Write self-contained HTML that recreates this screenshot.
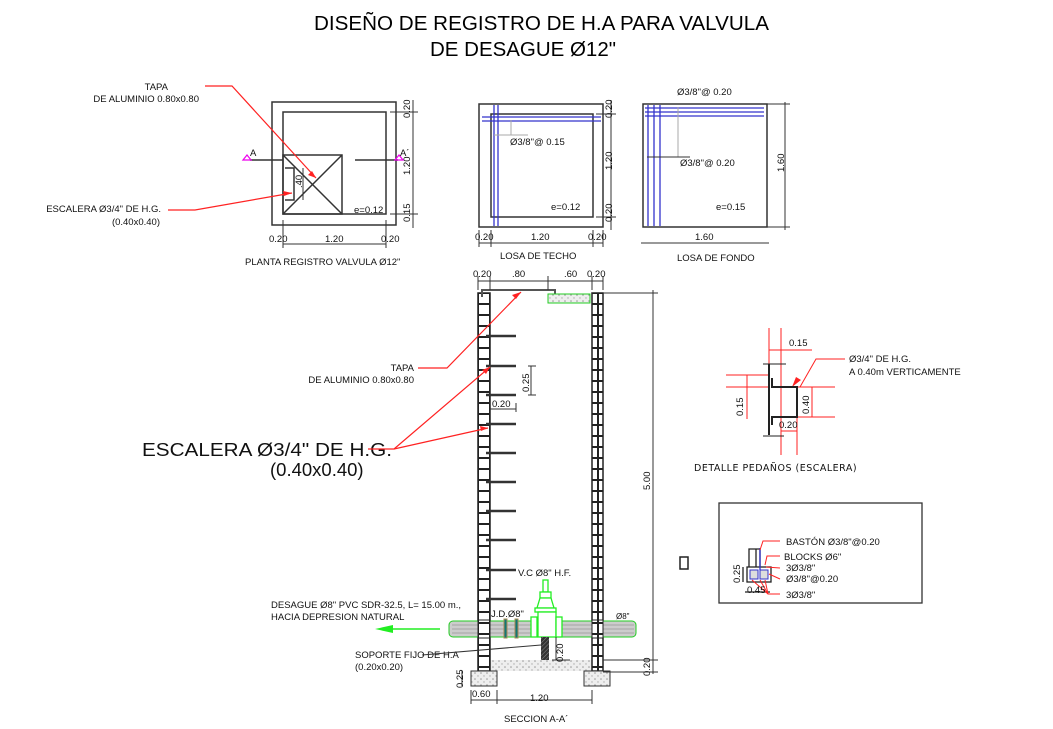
<!DOCTYPE html>
<html><head><meta charset="utf-8"><style>
html,body{margin:0;padding:0;background:#fff;}
svg{display:block;font-family:"Liberation Sans",sans-serif;}
</style></head><body>
<svg width="1053" height="729" viewBox="0 0 1053 729" xmlns="http://www.w3.org/2000/svg">
<defs>
<pattern id="blk" x="478" y="293" width="12" height="11" patternUnits="userSpaceOnUse">
<rect x="0" y="0" width="12" height="11" fill="#fff" stroke="#222" stroke-width="2"/>
</pattern>
<pattern id="dots" width="6" height="6" patternUnits="userSpaceOnUse">
<rect width="6" height="6" fill="#eee"/><circle cx="1" cy="1" r="0.8" fill="#999"/><circle cx="4" cy="4" r="0.7" fill="#aaa"/>
</pattern>
<pattern id="hat" width="3" height="3" patternUnits="userSpaceOnUse" patternTransform="rotate(45)">
<rect width="3" height="3" fill="#333"/><line x1="0" y1="0" x2="0" y2="3" stroke="#888" stroke-width="1"/>
</pattern>
</defs>

<!-- Title -->
<text x="314" y="30" font-size="20" textLength="455" lengthAdjust="spacingAndGlyphs">DISEÑO DE REGISTRO DE H.A PARA VALVULA</text>
<text x="430" y="56" font-size="20" textLength="186" lengthAdjust="spacingAndGlyphs">DE DESAGUE Ø12"</text>

<g font-size="9.5" fill="#111">
<!-- PLAN -->
<g fill="none" stroke="#333" stroke-width="1.5">
<rect x="272" y="102" width="124" height="123"/>
<rect x="283" y="112" width="103" height="102"/>
<rect x="283" y="155" width="59" height="59"/>
<line x1="283" y1="155" x2="342" y2="214"/><line x1="342" y1="155" x2="283" y2="214"/>
<path d="M285 168 H294 V200 H285" />
<line x1="250" y1="160" x2="283" y2="160"/><line x1="355" y1="160" x2="398" y2="160"/>
<line x1="413" y1="100" x2="413" y2="228" stroke-width="1"/>
<line x1="390" y1="112" x2="418" y2="112" stroke-width="1"/>
<line x1="390" y1="214" x2="418" y2="214" stroke-width="1"/>
<line x1="283" y1="244" x2="386" y2="244" stroke-width="1"/>
<line x1="283" y1="220" x2="283" y2="248" stroke-width="1"/>
<line x1="386" y1="220" x2="386" y2="248" stroke-width="1"/>
<line x1="303" y1="168" x2="303" y2="200" stroke-width="1"/>
</g>
<path d="M243 160 l4 -5 l4 5z" fill="none" stroke="#e0e" stroke-width="1.2"/>
<path d="M395 160 l4 -5 l4 5z" fill="none" stroke="#e0e" stroke-width="1.2"/>
<text x="250" y="156">A</text><text x="400" y="156">A´</text>
<text x="354" y="213">e=0.12</text>
<text x="269" y="242">0.20</text><text x="325" y="242">1.20</text><text x="381" y="242">0.20</text>
<text transform="translate(410,118) rotate(-90)">0.20</text>
<text transform="translate(410,175) rotate(-90)">1.20</text>
<text transform="translate(410,222) rotate(-90)">0.15</text>
<text transform="translate(302,188) rotate(-90)">.40</text>
<text x="245" y="265">PLANTA REGISTRO VALVULA Ø12"</text>
<text x="168" y="90" font-size="9.5" text-anchor="end">TAPA</text>
<text x="199" y="102" text-anchor="end">DE ALUMINIO 0.80x0.80</text>
<text x="161" y="212" text-anchor="end">ESCALERA Ø3/4" DE H.G.</text>
<text x="160" y="225" text-anchor="end">(0.40x0.40)</text>
<g stroke="#f22" stroke-width="1.2" fill="none">
<polyline points="205,86 232,86 316,178"/>
<polyline points="168,210 195,210 292,193"/>
</g>
<path d="M316 178 l-8 -3 l4 -4z" fill="#f22"/>
<path d="M292 193 l-9 -2 l1 5z" fill="#f22"/>

<!-- LOSA DE TECHO -->
<g fill="none" stroke="#333" stroke-width="1.5">
<rect x="479" y="104" width="124" height="123"/>
<rect x="491" y="114" width="102" height="103"/>
<line x1="611" y1="100" x2="611" y2="230" stroke-width="1"/>
<line x1="596" y1="114" x2="616" y2="114" stroke-width="1"/>
<line x1="596" y1="217" x2="616" y2="217" stroke-width="1"/>
<line x1="479" y1="243" x2="603" y2="243" stroke-width="1"/>
<line x1="479" y1="230" x2="479" y2="247" stroke-width="1"/>
<line x1="491" y1="230" x2="491" y2="247" stroke-width="1"/>
<line x1="593" y1="230" x2="593" y2="247" stroke-width="1"/>
<line x1="603" y1="230" x2="603" y2="247" stroke-width="1"/>
</g>
<g stroke="#33c" stroke-width="1.3" fill="none">
<line x1="482" y1="117" x2="601" y2="117"/><line x1="482" y1="121" x2="601" y2="121"/>
<line x1="494" y1="105" x2="494" y2="226"/><line x1="498" y1="105" x2="498" y2="226"/>
</g>
<g stroke="#aaa" stroke-width="1"><line x1="511" y1="120" x2="511" y2="135"/><line x1="494" y1="135" x2="528" y2="135"/></g>
<text x="510" y="145">Ø3/8"@ 0.15</text>
<text x="551" y="210">e=0.12</text>
<text x="475" y="240">0.20</text><text x="531" y="240">1.20</text><text x="588" y="240">0.20</text>
<text transform="translate(612,118) rotate(-90)">0.20</text>
<text transform="translate(612,170) rotate(-90)">1.20</text>
<text transform="translate(612,222) rotate(-90)">0.20</text>
<text x="500" y="259">LOSA DE TECHO</text>

<!-- LOSA DE FONDO -->
<g fill="none" stroke="#333" stroke-width="1.5">
<rect x="643" y="104" width="124" height="123"/>
<line x1="785" y1="102" x2="785" y2="230" stroke-width="1"/>
<line x1="767" y1="104" x2="790" y2="104" stroke-width="1"/>
<line x1="767" y1="227" x2="790" y2="227" stroke-width="1"/>
<line x1="641" y1="243" x2="769" y2="243" stroke-width="1"/>
</g>
<g stroke="#33c" stroke-width="1.3" fill="none">
<line x1="645" y1="108" x2="764" y2="108"/><line x1="645" y1="112" x2="764" y2="112"/><line x1="645" y1="116" x2="764" y2="116"/>
<line x1="648" y1="105" x2="648" y2="226"/><line x1="654" y1="105" x2="654" y2="226"/><line x1="660" y1="105" x2="660" y2="226"/>
</g>
<g stroke="#aaa" stroke-width="1"><line x1="678" y1="107" x2="678" y2="157"/></g>
<line x1="647" y1="157" x2="690" y2="157" stroke="#333" stroke-width="1"/>
<text x="677" y="95">Ø3/8"@ 0.20</text>
<text x="680" y="166">Ø3/8"@ 0.20</text>
<text x="716" y="210">e=0.15</text>
<text transform="translate(784,172) rotate(-90)">1.60</text>
<text x="695" y="240">1.60</text>
<text x="677" y="261">LOSA DE FONDO</text>

<!-- SECTION -->
<rect x="490" y="660" width="102" height="11" fill="url(#dots)"/>
<rect x="478" y="293" width="12" height="378" fill="url(#blk)" stroke="#222" stroke-width="1.5"/>
<rect x="592" y="293" width="11" height="378" fill="url(#blk)" stroke="#222" stroke-width="1.5"/>
<rect x="471" y="671" width="26" height="15" fill="url(#dots)" stroke="#333"/>
<rect x="584" y="671" width="26" height="15" fill="url(#dots)" stroke="#333"/>
<path d="M482 297 V290 H555 V297" fill="none" stroke="#555" stroke-width="2"/>
<rect x="548" y="294" width="42" height="9" fill="url(#dots)" stroke="#2c2" stroke-width="1"/>
<g stroke="#333" stroke-width="2.5">
<line x1="486" y1="336" x2="516" y2="336"/><line x1="486" y1="366" x2="516" y2="366"/>
<line x1="486" y1="395" x2="516" y2="395"/><line x1="486" y1="424" x2="516" y2="424"/>
<line x1="486" y1="453" x2="516" y2="453"/><line x1="486" y1="482" x2="516" y2="482"/>
<line x1="486" y1="511" x2="516" y2="511"/><line x1="486" y1="540" x2="516" y2="540"/>
<line x1="486" y1="570" x2="516" y2="570"/><line x1="486" y1="599" x2="516" y2="599"/>
</g>
<!-- pipe -->
<rect x="449" y="621" width="187" height="16" rx="4" fill="#ccc" stroke="#2c2" stroke-width="1"/>
<g stroke="#999" stroke-width="0.8"><line x1="452" y1="625" x2="634" y2="625"/><line x1="452" y1="629" x2="634" y2="629"/><line x1="452" y1="633" x2="634" y2="633"/></g>
<rect x="478" y="620" width="12" height="18" fill="url(#blk)" stroke="#222"/>
<rect x="592" y="620" width="11" height="18" fill="url(#blk)" stroke="#222"/>
<g fill="#177" stroke="#a85" stroke-width="1"><rect x="504" y="619" width="3" height="19"/><rect x="515" y="619" width="3" height="19"/></g>
<!-- valve -->
<g fill="#fff" stroke="#2e2" stroke-width="1.3">
<rect x="543" y="580" width="5" height="12"/>
<rect x="540" y="592" width="11" height="6"/>
<path d="M540 598 L551 598 L554 608 L537 608 Z"/>
<rect x="535" y="608" width="21" height="4"/>
<rect x="538" y="612" width="18" height="25"/>
<rect x="531" y="617" width="6" height="20"/>
<rect x="556" y="617" width="6" height="20"/>
</g>
<rect x="541" y="637" width="8" height="23" fill="url(#hat)"/>
<!-- section dims -->
<g stroke="#333" stroke-width="1" fill="none">
<line x1="478" y1="281" x2="603" y2="281"/>
<line x1="478" y1="276" x2="478" y2="290"/><line x1="490" y1="276" x2="490" y2="290"/>
<line x1="548" y1="276" x2="548" y2="290"/><line x1="592" y1="276" x2="592" y2="290"/><line x1="603" y1="276" x2="603" y2="290"/>
<line x1="653" y1="290" x2="653" y2="674"/>
<line x1="603" y1="293" x2="658" y2="293"/><line x1="603" y1="660" x2="658" y2="660"/><line x1="603" y1="672" x2="658" y2="672"/>
<line x1="531" y1="366" x2="531" y2="395"/><line x1="528" y1="366" x2="536" y2="366"/><line x1="528" y1="395" x2="536" y2="395"/>
<line x1="490" y1="409" x2="516" y2="409"/><line x1="516" y1="403" x2="516" y2="412"/>
<line x1="556" y1="637" x2="556" y2="660"/><line x1="552" y1="660" x2="570" y2="660"/>
<line x1="462" y1="671" x2="462" y2="686"/>
<line x1="471" y1="700" x2="592" y2="700"/><line x1="471" y1="690" x2="471" y2="704"/><line x1="497" y1="690" x2="497" y2="704"/><line x1="592" y1="690" x2="592" y2="704"/>
</g>
<text x="473" y="277">0.20</text><text x="512" y="277">.80</text><text x="564" y="277">.60</text><text x="587" y="277">0.20</text>
<text transform="translate(650,490) rotate(-90)">5.00</text>
<text transform="translate(650,676) rotate(-90)">0.20</text>
<text transform="translate(529,392) rotate(-90)">0.25</text>
<text x="492" y="407">0.20</text>
<text transform="translate(563,662) rotate(-90)">0.20</text>
<text transform="translate(463,688) rotate(-90)">0.25</text>
<text x="472" y="697">0.60</text><text x="530" y="701">1.20</text>
<text x="518" y="576">V.C Ø8" H.F.</text>
<text x="491" y="617">J.D.Ø8"</text>
<text x="616" y="619" font-size="8">Ø8"</text>
<text x="504" y="722">SECCION  A-A´</text>
<text x="271" y="608">DESAGUE Ø8" PVC SDR-32.5, L= 15.00 m.,</text>
<text x="271" y="620">HACIA DEPRESION NATURAL</text>
<line x1="390" y1="629" x2="440" y2="629" stroke="#2e2" stroke-width="1.5"/>
<path d="M375 629 L393 625 L393 633 Z" fill="#2e2"/>
<text x="355" y="658">SOPORTE FIJO DE H.A</text>
<text x="355" y="670">(0.20x0.20)</text>
<line x1="422" y1="655" x2="541" y2="645" stroke="#333" stroke-width="1"/>
<text x="414" y="371" text-anchor="end">TAPA</text>
<text x="414" y="383" text-anchor="end">DE ALUMINIO 0.80x0.80</text>
<text x="142" y="456" font-size="18.5" textLength="250" lengthAdjust="spacingAndGlyphs">ESCALERA Ø3/4" DE H.G.</text>
<text x="270" y="476" font-size="18.5">(0.40x0.40)</text>
<g stroke="#f22" stroke-width="1.2" fill="none">
<polyline points="418,368 447,368 521,292"/>
<polyline points="368,449 394,449 490,367"/>
<line x1="394" y1="449" x2="488" y2="428"/>
</g>
<path d="M521 292 l-9 3 l4 4z" fill="#f22"/>
<path d="M490 367 l-8 3 l4 4z" fill="#f22"/>
<path d="M488 428 l-8 -2 l1 5z" fill="#f22"/>

<!-- DETALLE PEDAÑOS -->
<g stroke="#f22" stroke-width="1" fill="none">
<line x1="769" y1="328" x2="769" y2="365"/><line x1="781" y1="328" x2="781" y2="455"/><line x1="797" y1="398" x2="797" y2="455"/>
<line x1="726" y1="375" x2="769" y2="375"/><line x1="726" y1="387" x2="769" y2="387"/>
<line x1="797" y1="387" x2="835" y2="387"/><line x1="797" y1="417" x2="835" y2="417"/>
<line x1="747" y1="375" x2="747" y2="419"/>
<line x1="812" y1="387" x2="812" y2="417"/>
<line x1="769" y1="350" x2="812" y2="350"/>
<line x1="781" y1="431" x2="797" y2="431"/>
<polyline points="800,387 816,359 845,359"/>
</g>
<path d="M792 387 l4 -10 l5 3z" fill="#f22"/>
<g stroke="#222" stroke-width="2" fill="none">
<line x1="769" y1="364" x2="769" y2="435"/>
<polyline points="772,378 772,387 797,387 797,417 772,417 772,425"/>
</g>
<g stroke="#222" stroke-width="1"><line x1="763" y1="364" x2="786" y2="364"/><line x1="763" y1="436" x2="784" y2="436"/></g>
<text x="789" y="346">0.15</text>
<text x="849" y="362">Ø3/4" DE H.G.</text>
<text x="849" y="375">A 0.40m VERTICAMENTE</text>
<text transform="translate(743,416) rotate(-90)">0.15</text>
<text transform="translate(809,414) rotate(-90)">0.40</text>
<text x="779" y="428">0.20</text>
<text x="694" y="471" font-family="DejaVu Sans,sans-serif" font-size="9.5" letter-spacing="0.5">DETALLE  PEDAÑOS  (ESCALERA)</text>

<!-- small box -->
<rect x="680" y="557" width="8" height="12" fill="none" stroke="#222" stroke-width="1.5"/>
<rect x="719" y="503" width="203" height="100" fill="none" stroke="#333" stroke-width="1.3"/>
<g stroke="#222" stroke-width="1.3" fill="none">
<path d="M749 567 V549 H760 V567"/><path d="M756 549 V567"/>
<rect x="747" y="567" width="24" height="15"/>
<line x1="743" y1="567" x2="743" y2="582"/><line x1="745" y1="592" x2="770" y2="592"/>
</g>
<rect x="750" y="570" width="8" height="9" fill="#ddd" stroke="#33c"/><rect x="760" y="570" width="8" height="9" fill="#ddd" stroke="#33c"/>
<line x1="760" y1="548" x2="760" y2="570" stroke="#33c" stroke-width="1.3"/>
<g stroke="#f22" stroke-width="1" fill="none">
<polyline points="780,541 763,541 760,550"/>
<polyline points="780,556 767,556 765,565"/>
<line x1="780" y1="568" x2="766" y2="567"/>
<line x1="780" y1="579" x2="769" y2="574"/>
<polyline points="780,594 768,594 752,580"/><line x1="768" y1="594" x2="760" y2="580"/><line x1="768" y1="594" x2="765" y2="580"/>
</g>
<text x="786" y="545">BASTÓN Ø3/8"@0.20</text>
<text x="784" y="560">BLOCKS Ø6"</text>
<text x="786" y="571">3Ø3/8"</text>
<text x="786" y="582">Ø3/8"@0.20</text>
<text x="786" y="598">3Ø3/8"</text>
<text transform="translate(740,583) rotate(-90)">0.25</text>
<text x="747" y="593">0.45</text>
</g>
</svg>
</body></html>
